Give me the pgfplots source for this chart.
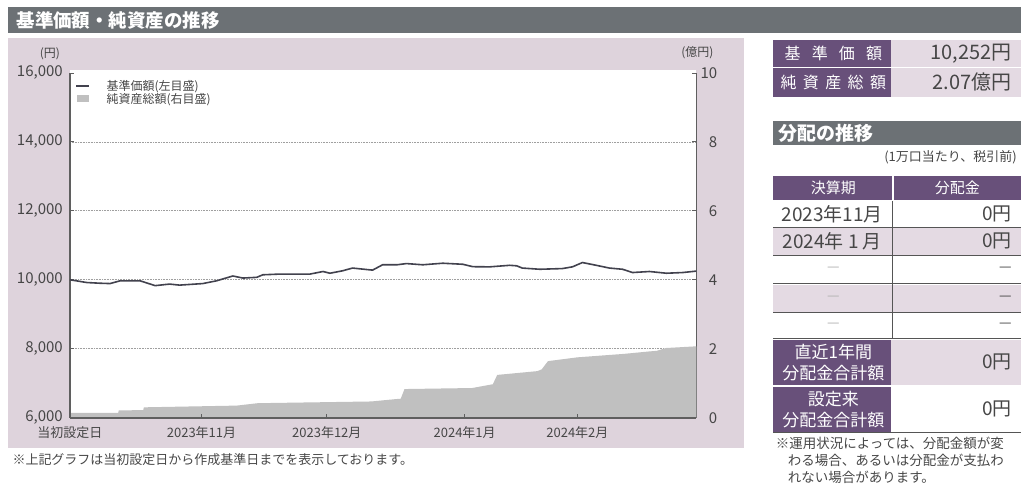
\documentclass[border=0pt]{standalone}
\usepackage{fontspec}
\setmainfont{Noto Sans CJK JP}
\usepackage{pgfplots}
\pgfplotsset{compat=1.18}

\definecolor{panel}{RGB}{222,211,220}
\definecolor{barg}{RGB}{108,113,117}
\definecolor{purp}{RGB}{104,80,122}
\definecolor{cell}{RGB}{228,218,227}
\definecolor{areagray}{RGB}{192,192,192}
\definecolor{navline}{RGB}{66,66,78}
\definecolor{axisgray}{RGB}{95,95,95}
\definecolor{txt}{RGB}{70,70,70}
\definecolor{rulec}{RGB}{85,85,85}

\newcommand{\fs}[1]{\fontsize{#1}{#1}\selectfont}

\pgfplotsset{
  chartbox/.style={
    at={(70pt,75pt)}, anchor=south west,
    scale only axis, width=627pt, height=345pt,
    xmin=0, xmax=100,
    tick align=inside, major tick length=4pt,
    scaled y ticks=false,
    /pgf/number format/1000 sep={,},
    /pgf/number format/assume math mode=true,
  }
}

\begin{document}
\begin{tikzpicture}
\begin{scope}[x=1pt,y=1pt]
\path[use as bounding box] (0,0) rectangle (1022,493);
% title bar
\fill[barg] (8,460) rectangle (1022,486);
\node[anchor=west,text=white,font=\fs{18.5}\bfseries] at (13,473) {基準価額・純資産の推移};
% chart panel
\fill[panel] (8,45) rectangle (745,455);
\fill[white] (70,75) rectangle (697,423);
\node[text=txt,font=\fs{12}] at (50,439) {(円)};
\node[text=txt,font=\fs{12}] at (698,440) {(億円)};
\end{scope}

% net assets, right scale
\begin{axis}[chartbox,
  ymin=0, ymax=10,
  axis x line=none, axis y line*=right,
  ytick={2,4,6,8},
  extra y ticks={0,10},
  extra y tick style={grid=none},
  ymajorgrids,
  grid style={gray!75, line width=0.7pt, dash pattern=on 0.8pt off 0.8pt},
  y axis line style={axisgray, line width=1.6pt},
  ytick style={axisgray, line width=0.8pt},
  yticklabel style={anchor=east, inner sep=0pt, xshift=21pt, font=\fs{15}, text=txt},
]
\addplot[fill=areagray, draw=none] coordinates {
  (0,0.14) (7.7,0.14) (7.8,0.21) (11.7,0.22) (11.8,0.30) (26.6,0.35)
  (30.0,0.42) (48.1,0.47) (52.1,0.54) (52.8,0.55) (53.4,0.83) (64.2,0.86)
  (67.5,0.97) (68.2,1.24) (74.6,1.35) (75.3,1.40) (76.3,1.64) (81.0,1.75)
  (88.4,1.85) (92.4,1.92) (93.7,1.94) (95.1,2.02) (100,2.07)
} \closedcycle;
\end{axis}

% NAV, left scale
\begin{axis}[chartbox,
  ymin=6000, ymax=16000,
  axis x line*=bottom, axis y line*=left,
  ytick={6000,8000,...,16000},
  xtick={0,21,41,63,81},
  xticklabels={当初設定日,2023年11月,2023年12月,2024年1月,2024年2月},
  x axis line style={axisgray, line width=2pt},
  y axis line style={axisgray, line width=1.6pt},
  tick style={axisgray, line width=0.8pt},
  yticklabel style={anchor=east, inner sep=0pt, xshift=-7pt, font=\fs{15}, text=txt},
  xticklabel style={anchor=north, inner sep=0pt, yshift=-9pt, font=\fs{13}, text=txt},
  legend style={at={(axis description cs:0.008,0.981)}, anchor=north west,
    draw=none, fill=none, inner sep=0pt, font=\fs{12}, text=txt,
    nodes={inner sep=0.6pt}},
  legend cell align=left,
]
\addplot[navline, line width=1.6pt,
  legend image code/.code={\draw[navline,line width=1.8pt] (0pt,0pt) -- (13pt,0pt); \path[draw=none] (0pt,0pt) -- (30pt,0pt);}]
  coordinates {
  (0,10000) (2.7,9920) (4.8,9900) (6.4,9890) (8.0,9970) (11.2,9970)
  (13.6,9830) (15.9,9875) (17.5,9845) (21.2,9890) (23.4,9970) (26.0,10110)
  (27.6,10050) (29.8,10070) (30.8,10145) (33.5,10165) (38.3,10165) (40.4,10240)
  (41.5,10190) (43.5,10260) (45.1,10340) (48.3,10280) (49.9,10435) (52.2,10435)
  (53.7,10470) (56.3,10435) (59.5,10480) (62.7,10450) (64.3,10380) (67.0,10375)
  (70.2,10420) (71.3,10405) (72.2,10340) (75.0,10305) (78.6,10325) (80.2,10375)
  (81.8,10500) (84.0,10420) (86.1,10340) (88.2,10305) (89.8,10210) (92.5,10240)
  (95.2,10190) (97.8,10210) (100,10252)
};
\addlegendentry{基準価額(左目盛)}
\addlegendimage{draw=none, fill=areagray,
  legend image code/.code={\fill[areagray,draw=none] (0.5pt,-3.5pt) rectangle (12.5pt,3.5pt); \path[draw=none,fill=none] (0pt,0pt) -- (30pt,0pt);}}
\addlegendentry{純資産総額(右目盛)}
\end{axis}

\begin{scope}[x=1pt,y=1pt]
\node[anchor=west,text=txt,font=\fs{13}] at (9,33) {※上記グラフは当初設定日から作成基準日までを表示しております。};

% NAV / total assets box
\fill[purp] (774,426) rectangle (892,453);
\fill[cell] (892,426) rectangle (1022,453);
\fill[purp] (774,396) rectangle (892,425);
\fill[cell] (892,396) rectangle (1022,425);
\node[text=white,font=\fs{16}] at (834,439.5) {基\hspace{0.7em}準\hspace{0.7em}価\hspace{0.7em}額};
\node[text=white,font=\fs{16}] at (834,410.5) {純\hspace{0.4em}資\hspace{0.4em}産\hspace{0.4em}総\hspace{0.4em}額};
\node[anchor=east,text=txt,font=\fs{20}] at (1016,439.5) {10,252円};
\node[anchor=east,text=txt,font=\fs{20}] at (1016,410.5) {2.07億円};

% distribution history
\fill[barg] (774,348) rectangle (1022,372);
\node[anchor=west,text=white,font=\fs{19}\bfseries] at (776,360) {分配の推移};
\node[anchor=east,text=txt,font=\fs{13}] at (1021,336) {(1万口当たり、税引前)};

\fill[purp] (774,293) rectangle (1022,317);
\draw[white,line width=2pt] (894,293) -- (894,317);
\node[text=white,font=\fs{15}] at (834,305) {決算期};
\node[text=white,font=\fs{15}] at (958,305) {分配金};

\fill[cell] (774,238) rectangle (1022,265);
\fill[cell] (774,181) rectangle (1022,208);
\node[text=txt,font=\fs{19}] at (833,279) {2023年11月};
\node[anchor=east,text=txt,font=\fs{19}] at (1016,279) {0円};
\node[text=txt,font=\fs{19}] at (833,251.5) {2024年 1 月};
\node[anchor=east,text=txt,font=\fs{19}] at (1016,251.5) {0円};
\foreach \yy in {223,194.5,167} {
  \node[text=gray!60,font=\fs{14}] at (834,\yy) {—};
  \node[anchor=east,text=txt,font=\fs{14}] at (1016,\yy) {—};
}

\fill[purp] (774,108) rectangle (892,153);
\fill[cell] (892,108) rectangle (1022,153);
\fill[purp] (774,61) rectangle (892,106);
\node[text=white,font=\fontsize{17}{21}\selectfont,align=center] at (834,130.5) {直近1年間\\分配金合計額};
\node[text=white,font=\fontsize{17}{21}\selectfont,align=center] at (834,83.5) {設定来\\分配金合計額};
\node[anchor=east,text=txt,font=\fs{19}] at (1016,130.5) {0円};
\node[anchor=east,text=txt,font=\fs{19}] at (1016,83.5) {0円};

\foreach \yy in {265.5,237,209,180,154} {
  \draw[rulec,line width=1.2pt] (774,\yy) -- (1022,\yy);
}
\draw[rulec,line width=1.6pt] (774,60) -- (1022,60);
\draw[rulec,line width=1.4pt] (893,154) -- (893,292);

\node[anchor=west,text=txt,font=\fs{13.5}] at (773,49) {※運用状況によっては、分配金額が変};
\node[anchor=west,text=txt,font=\fs{13.5}] at (785,32) {わる場合、あるいは分配金が支払わ};
\node[anchor=west,text=txt,font=\fs{13.5}] at (785,15) {れない場合があります。};
\end{scope}
\end{tikzpicture}
\end{document}
